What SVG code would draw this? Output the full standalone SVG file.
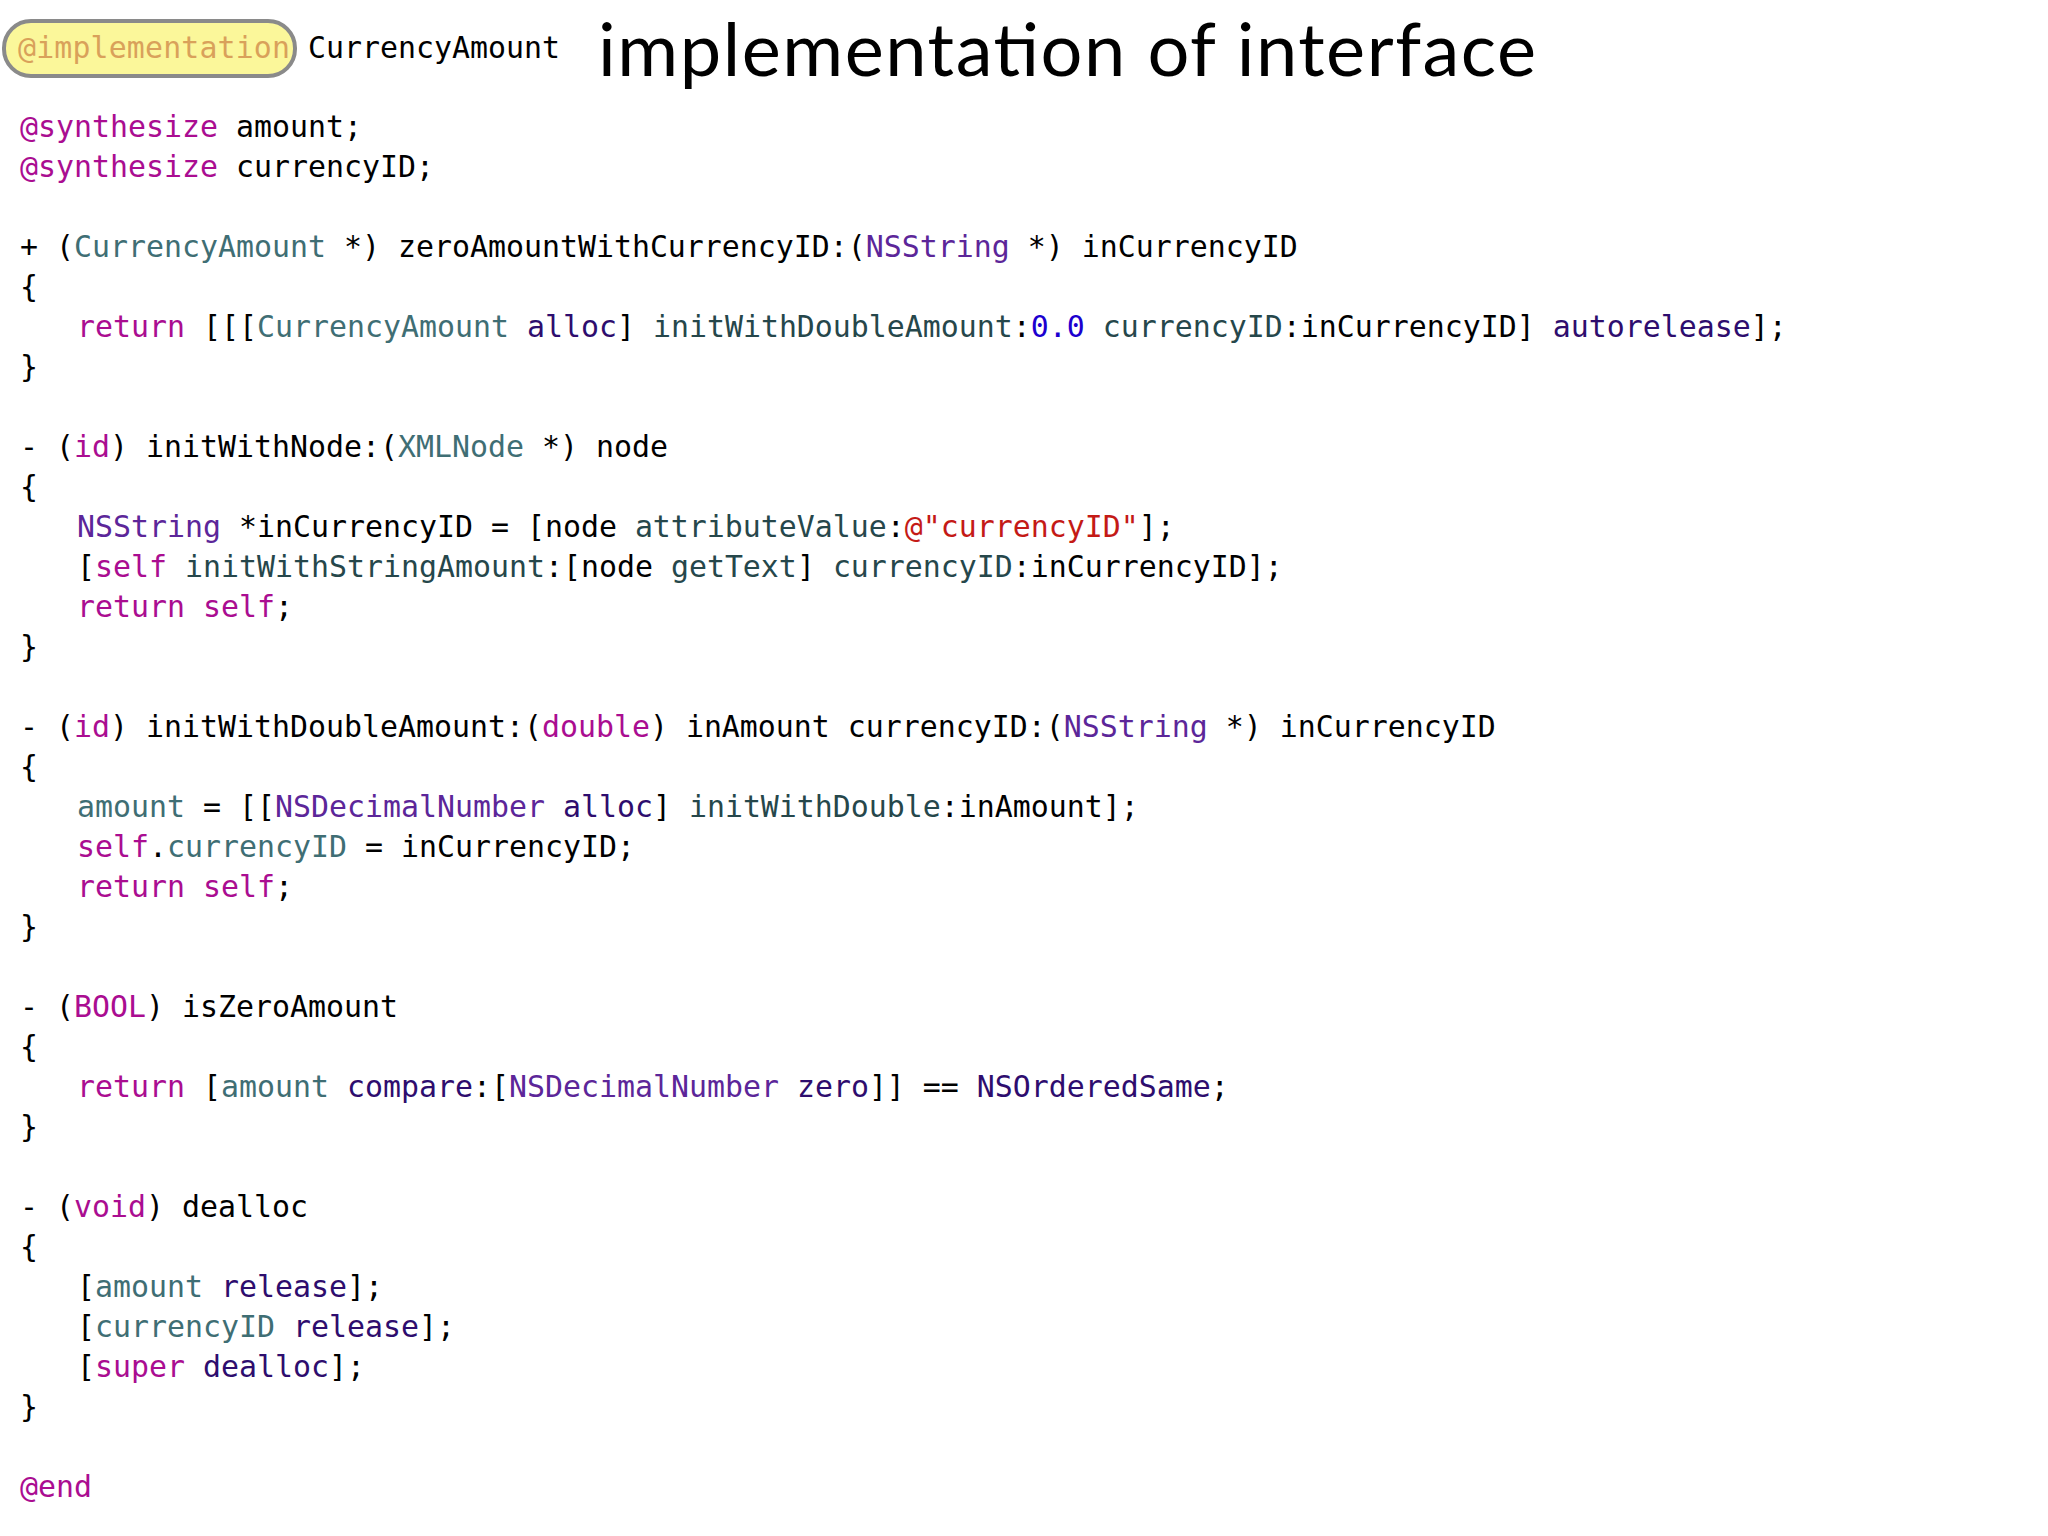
<svg xmlns="http://www.w3.org/2000/svg" width="2048" height="1536" viewBox="0 0 2048 1536">
<style>
.c{font-family:"DejaVu Sans Mono","Liberation Mono",monospace;font-size:29.9px;fill:#000;white-space:pre}
.k{fill:#AA0D91}.t{fill:#3F6E74}.s{fill:#5C2699}.m{fill:#2E0D6E}.p{fill:#26474B}.n{fill:#1C00CF}.r{fill:#C41A16}
</style>
<rect width="2048" height="1536" fill="#fff"/>
<g id="header">
<rect x="4" y="21" width="291" height="55" rx="27" fill="#FBF79A" stroke="#8A8A8A" stroke-width="4"/>
<text x="18" y="58" class="c" style="fill:#D9A15A" textLength="272">@implementation</text>
<text x="308" y="58" class="c">CurrencyAmount</text>
<text x="598" y="76" font-family="Lato,'Open Sans',sans-serif" font-size="74" textLength="938" fill="#000">implementation of interface</text>
</g>
<g id="code" class="c">
<text x="20" y="137"><tspan class="k">@synthesize</tspan> amount;</text>
<text x="20" y="177"><tspan class="k">@synthesize</tspan> currencyID;</text>
<text x="20" y="257">+ (<tspan class="t">CurrencyAmount</tspan> *) zeroAmountWithCurrencyID:(<tspan class="s">NSString</tspan> *) inCurrencyID</text>
<text x="20" y="297">{</text>
<text x="77" y="337"><tspan class="k">return</tspan> [[[<tspan class="t">CurrencyAmount</tspan> <tspan class="m">alloc</tspan>] <tspan class="p">initWithDoubleAmount</tspan>:<tspan class="n">0.0</tspan> <tspan class="p">currencyID</tspan>:inCurrencyID] <tspan class="m">autorelease</tspan>];</text>
<text x="20" y="377">}</text>
<text x="20" y="457">- (<tspan class="k">id</tspan>) initWithNode:(<tspan class="t">XMLNode</tspan> *) node</text>
<text x="20" y="497">{</text>
<text x="77" y="537"><tspan class="s">NSString</tspan> *inCurrencyID = [node <tspan class="p">attributeValue</tspan>:<tspan class="r">@"currencyID"</tspan>];</text>
<text x="77" y="577">[<tspan class="k">self</tspan> <tspan class="p">initWithStringAmount</tspan>:[node <tspan class="p">getText</tspan>] <tspan class="p">currencyID</tspan>:inCurrencyID];</text>
<text x="77" y="617"><tspan class="k">return self</tspan>;</text>
<text x="20" y="657">}</text>
<text x="20" y="737">- (<tspan class="k">id</tspan>) initWithDoubleAmount:(<tspan class="k">double</tspan>) inAmount currencyID:(<tspan class="s">NSString</tspan> *) inCurrencyID</text>
<text x="20" y="777">{</text>
<text x="77" y="817"><tspan class="t">amount</tspan> = [[<tspan class="s">NSDecimalNumber</tspan> <tspan class="m">alloc</tspan>] <tspan class="p">initWithDouble</tspan>:inAmount];</text>
<text x="77" y="857"><tspan class="k">self</tspan>.<tspan class="t">currencyID</tspan> = inCurrencyID;</text>
<text x="77" y="897"><tspan class="k">return self</tspan>;</text>
<text x="20" y="937">}</text>
<text x="20" y="1017">- (<tspan class="k">BOOL</tspan>) isZeroAmount</text>
<text x="20" y="1057">{</text>
<text x="77" y="1097"><tspan class="k">return</tspan> [<tspan class="t">amount</tspan> <tspan class="m">compare</tspan>:[<tspan class="s">NSDecimalNumber</tspan> <tspan class="m">zero</tspan>]] == <tspan class="m">NSOrderedSame</tspan>;</text>
<text x="20" y="1137">}</text>
<text x="20" y="1217">- (<tspan class="k">void</tspan>) dealloc</text>
<text x="20" y="1257">{</text>
<text x="77" y="1297">[<tspan class="t">amount</tspan> <tspan class="m">release</tspan>];</text>
<text x="77" y="1337">[<tspan class="t">currencyID</tspan> <tspan class="m">release</tspan>];</text>
<text x="77" y="1377">[<tspan class="k">super</tspan> <tspan class="m">dealloc</tspan>];</text>
<text x="20" y="1417">}</text>
<text x="20" y="1497" class="k">@end</text>
</g>
</svg>
